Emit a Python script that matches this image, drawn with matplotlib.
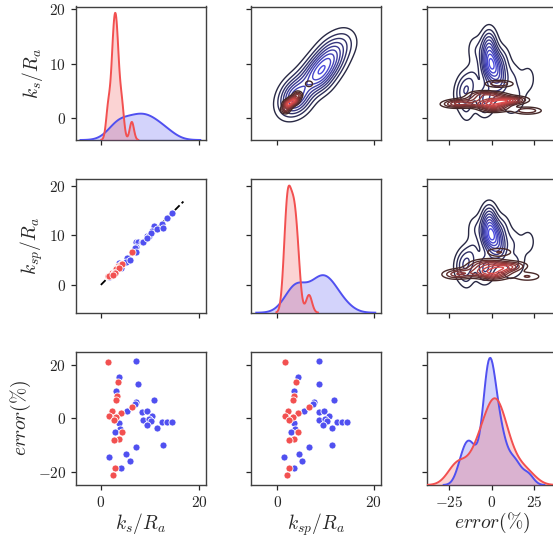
import matplotlib

matplotlib.use("Agg")
import matplotlib.pyplot as plt
import numpy as np
import seaborn as sns

RED = "#f25050"
BLUE = "#5050f0"

# Values (two groups).
blue_ks = [7.2, 3.75, 7.6, 3.1, 7.2, 7.0, 10.9, 5.3, 8.4, 9.4, 10.4, 8.6, 9.8, 10.3,
           12.5, 13.5, 14.5, 9.4, 11.5, 3.6, 3.8, 2.9, 12.6, 7.2, 1.6, 5.2, 5.9, 4.2]
blue_ksp = [8.7, 4.4, 8.6, 3.4, 7.7, 7.4, 11.8, 5.5, 8.7, 9.8, 10.8, 8.7, 9.9, 10.4,
            12.3, 13.5, 14.5, 9.4, 11.3, 3.5, 3.7, 2.8, 11.4, 6.6, 1.5, 4.6, 5.1, 3.5]
blue_err = [21.4, 15.6, 12.9, 10.3, 6.1, 5.2, 7.0, 2.6, 2.2, 2.9, 0.9, -0.6, -0.4, -1.0,
            -1.5, -1.5, -1.5, -2.5, -3.5, -1.8, -4.1, -5.2, -10.2, -10.8, -14.5, -13.5,
            -16.0, -18.6]

red_ks = [1.4, 3.4, 3.2, 3.1, 6.3, 2.3, 4.1, 1.7, 3.1, 2.6, 4.4, 3.6, 2.6, 2.9, 2.5]
red_ksp = [1.7, 3.9, 3.5, 3.3, 6.6, 2.3, 4.3, 1.7, 3.2, 2.5, 4.3, 3.4, 2.4, 2.4, 2.0]
red_err = [20.9, 13.4, 8.4, 6.9, 4.4, 2.8, 2.1, 1.0, 0.5, -0.8, -5.2, -7.8, -8.3,
           -18.5, -21.1]

# dashed k_sp = k_s reference line, ends
ref_line = [0.0, 16.8]

LABELS = [r"$k_s/R_a$", r"$k_{sp}/R_a$", r"$error(\%)$"]

plt.rcParams.update({
    "font.family": "serif",
    "font.serif": ["cmr10"],
    "mathtext.fontset": "cm",
    "axes.formatter.use_mathtext": True,
    "axes.edgecolor": "0.25",
    "axes.linewidth": 1.0,
    "xtick.color": "0.15",
    "ytick.color": "0.15",
    "xtick.major.size": 3.6,
    "ytick.major.size": 3.6,
    "xtick.major.width": 0.9,
    "ytick.major.width": 0.9,
    "xtick.labelsize": 11,
    "ytick.labelsize": 11,
    "axes.labelsize": 14,
    "axes.labelcolor": "0.15",
})


def scott_bw(x):
    x = np.asarray(x, float)
    iqr = (np.percentile(x, 75) - np.percentile(x, 25)) / 1.349
    a = min(np.std(x, ddof=1), iqr) if iqr > 0 else np.std(x, ddof=1)
    return 1.059 * a * len(x) ** (-0.2)


def support(x, bw, gridsize=100, cut=3):
    return np.linspace(x.min() - cut * bw, x.max() + cut * bw, gridsize)


def gauss(grid, x, bw):
    return np.exp(-0.5 * ((grid[:, None] - x[None, :]) / bw) ** 2) / (bw * np.sqrt(2 * np.pi))


def kde1d(x):
    x = np.asarray(x, float)
    bw = scott_bw(x)
    grid = support(x, bw)
    return grid, gauss(grid, x, bw).mean(axis=1)


def kde2d(x, y):
    x = np.asarray(x, float)
    y = np.asarray(y, float)
    bx, by = scott_bw(x), scott_bw(y)
    gx, gy = support(x, bx), support(y, by)
    z = gauss(gy, y, by) @ gauss(gx, x, bx).T / len(x)
    xx, yy = np.meshgrid(gx, gy)
    return xx, yy, z


groups = [
    (BLUE, [blue_ks, blue_ksp, blue_err]),
    (RED, [red_ks, red_ksp, red_err]),
]

W, H = 553.0, 540.0
lefts = [76.0, 251.0, 426.7]
bottoms = [140.0, 312.7, 485.0]
AW, AH = 130.0, 133.5

xlims = [(-5.06, 21.4), (-5.4, 21.5), (-38.06, 38.1)]
ylims = [(-3.95, 20.4), (-5.6, 21.3), (-25.0, 25.0)]
xticks = [[0, 20], [0, 20], [-25, 0, 25]]
yticks = [[0, 10, 20], [0, 10, 20], [-20, 0, 20]]

fig = plt.figure(figsize=(W / 100, H / 100), dpi=100)

for i in range(3):
    for j in range(3):
        ax = fig.add_axes([lefts[j] / W, 1 - bottoms[i] / H, AW / W, AH / H])
        ax.set_xlim(*xlims[j])
        ax.set_ylim(*ylims[i])
        ax.set_xticks(xticks[j])
        ax.set_yticks(yticks[i])
        if j > 0:
            ax.set_yticklabels([])
        if i < 2:
            ax.set_xticklabels([])
        if j == 0:
            ax.set_ylabel(LABELS[i], labelpad=3)
        if i == 2:
            ax.set_xlabel(LABELS[j], labelpad=1)

        if i == j:
            dax = ax.twinx()
            dax.set_axis_off()
            top = 0.0
            for color, cols in groups:
                grid, dens = kde1d(cols[i])
                dax.plot(grid, dens, color=color, lw=1.4)
                dax.fill_between(grid, 0, dens, color=color, alpha=0.25, lw=0)
                top = max(top, dens.max())
            dax.set_xlim(*xlims[j])
            dax.set_ylim(0, top * 1.05)
        elif i > j:
            if (i, j) == (1, 0):
                ax.plot(ref_line, ref_line, "k--", lw=1.3, zorder=1)
            for color, cols in groups:
                ax.scatter(cols[j], cols[i], s=26, color=color, edgecolor="white",
                           linewidth=0.6, zorder=2)
        else:
            for color, cols in groups:
                xx, yy, z = kde2d(cols[j], cols[i])
                ax.contour(xx, yy, z, 10, cmap=sns.dark_palette(color, as_cmap=True),
                           linewidths=1.0)
            ax.set_xlim(*xlims[j])
            ax.set_ylim(*ylims[i])

fig.savefig("out.png", dpi=100)
